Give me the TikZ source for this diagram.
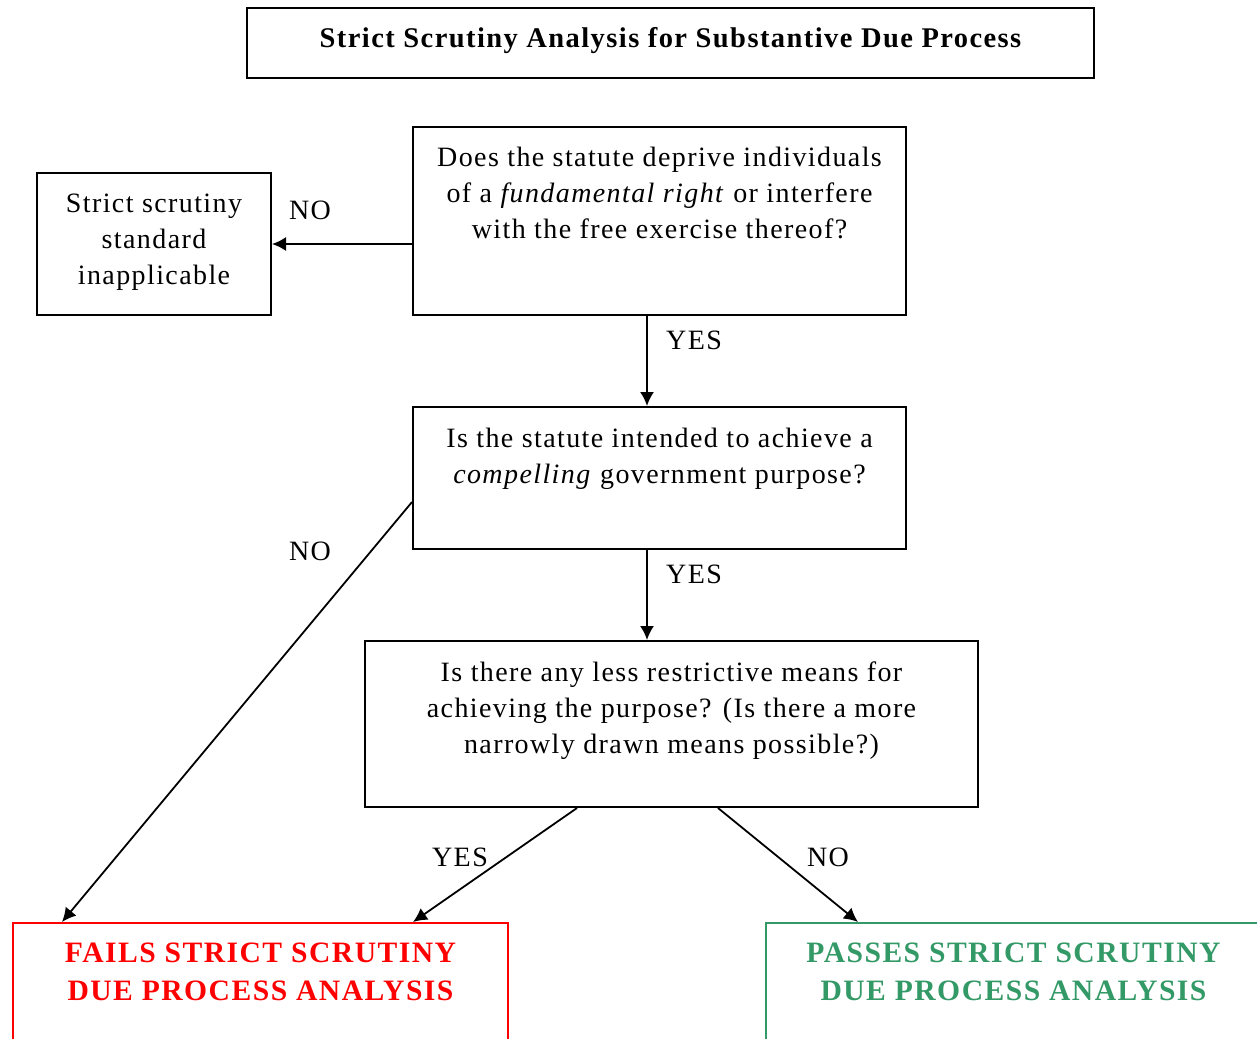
\documentclass[tikz,border=0pt]{standalone}
\usepackage{fontspec}
\setmainfont{Liberation Serif}[LetterSpace=5]
\usetikzlibrary{arrows.meta}
\definecolor{failred}{RGB}{255,0,0}
\definecolor{passgreen}{RGB}{51,153,102}
\newcommand{\bxt}[4]{\parbox[t][#2][t]{#1}{\centering\rule{0pt}{#3}#4\par}}
\begin{document}
\begin{tikzpicture}[x=0.5pt,y=-0.5pt,
  boxst/.style={draw, line width=1pt, inner sep=0pt, anchor=north west,
    font=\fontsize{14pt}{18pt}\selectfont},
  lbl/.style={inner sep=0pt, font=\fontsize{14pt}{18pt}\selectfont},
  arr/.style={line width=0.9pt, -{Latex[length=7pt,width=7pt]}}]
\useasboundingbox (0,0) rectangle (1257,1038);
\clip (0,0) rectangle (1257,1038);
\node[boxst, font=\fontsize{14.25pt}{18pt}\selectfont\bfseries] (T) at (246,7) {\bxt{423.5pt}{35pt}{20pt}{Strict Scrutiny Analysis for Substantive Due Process}};
\node[boxst] (A) at (412,126) {\bxt{246.5pt}{94pt}{19.5pt}{Does the statute deprive individuals\\ of a \emph{fundamental right} or interfere\\ with the free exercise thereof?}};
\node[boxst] (S) at (36,172) {\bxt{117pt}{71pt}{19.5pt}{Strict scrutiny\\ standard\\ inapplicable}};
\node[boxst] (B) at (412,406) {\bxt{246.5pt}{71pt}{20pt}{Is the statute intended to achieve a\\ \emph{compelling} government purpose?}};
\node[boxst] (C) at (364,640) {\bxt{306.5pt}{83pt}{20pt}{Is there any less restrictive means for\\ achieving the purpose? (Is there a more\\ narrowly drawn means possible?)}};
\node[boxst, draw=failred, text=failred, font=\fontsize{14.8pt}{19pt}\selectfont\bfseries] (R) at (12,922) {\bxt{247.5pt}{80pt}{19.5pt}{FAILS STRICT SCRUTINY\\ DUE PROCESS ANALYSIS}};
\node[boxst, draw=passgreen, text=passgreen, font=\fontsize{14.8pt}{19pt}\selectfont\bfseries] (G) at (765,922) {\bxt{247.5pt}{80pt}{19.5pt}{PASSES STRICT SCRUTINY\\ DUE PROCESS ANALYSIS}};
% connectors
\draw[arr] (S.east -| A.west) -- (S.east);
\draw[arr] ([xshift=117.5pt]A.south west) coordinate (a1) -- (a1 |- B.north);
\draw[arr] ([xshift=117.5pt]B.south west) coordinate (b1) -- (b1 |- C.north);
\draw[arr] ([yshift=24pt]B.south west) -- ([xshift=25pt]R.north west);
\draw[arr] ([xshift=106.5pt]C.south west) -- ([xshift=200.5pt]R.north west);
\draw[arr] ([xshift=177pt]C.south west) -- ([xshift=46.5pt]G.north west);
% labels
\node[lbl] (l1) at (310,210) {NO};
\node[lbl] (l2) at (694,340) {YES};
\node[lbl] (l3) at (694,574) {YES};
\node[lbl] (l4) at (310,551) {NO};
\node[lbl] (l5) at (460,857) {YES};
\node[lbl] (l6) at (828,857) {NO};
\end{tikzpicture}
\end{document}
